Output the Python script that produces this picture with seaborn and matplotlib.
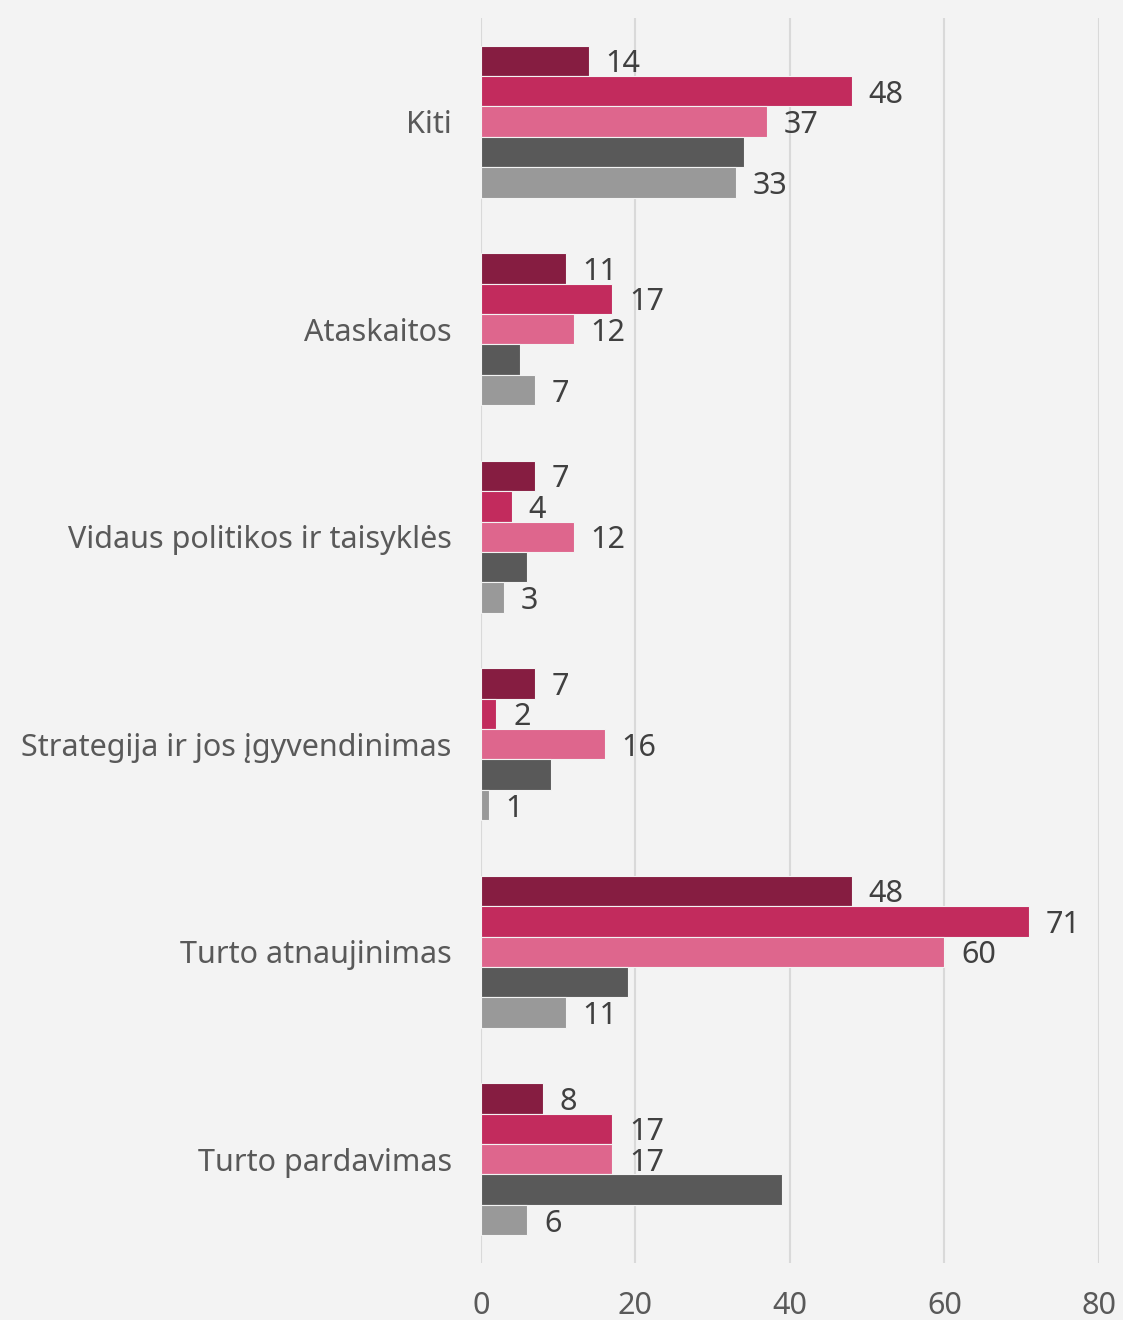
import pandas as pd
import matplotlib
matplotlib.use("Agg")
import matplotlib.pyplot as plt
import seaborn as sns

# ---------------------------------------------------------------------------
# Data
# ---------------------------------------------------------------------------
CATEGORIES = [
    "Kiti",
    "Ataskaitos",
    "Vidaus politikos ir taisyklės",
    "Strategija ir jos įgyvendinimas",
    "Turto atnaujinimas",
    "Turto pardavimas",
]
SERIES = ["S1", "S2", "S3", "S4", "S5"]
S1 = [14, 11, 7, 7, 48, 8]
S2 = [48, 17, 4, 2, 71, 17]
S3 = [37, 12, 12, 16, 60, 17]
S4 = [34, 5, 6, 9, 19, 39]
S5 = [33, 7, 3, 1, 11, 6]
X_TICKS = [0, 20, 40, 60, 80]

COLORS = ["#861D41", "#C22B5D", "#DE668D", "#595959", "#999999"]
BG = "#F3F3F3"
TEXT_COL = "#595959"
LABEL_COL = "#404040"
FS = 22

rows = []
for name, vals in zip(SERIES, [S1, S2, S3, S4, S5]):
    for cat, v in zip(CATEGORIES, vals):
        rows.append({"category": cat, "series": name, "value": v})
df = pd.DataFrame(rows)

# ---------------------------------------------------------------------------
# Plot
# ---------------------------------------------------------------------------
sns.set_style("white")
plt.rcParams["font.family"] = ["Noto Sans", "DejaVu Sans"]

fig = plt.figure(figsize=(11.23, 13.2), dpi=100)
fig.patch.set_facecolor(BG)
ax = fig.add_axes([0.4283, 0.0432, 0.5503, 0.9432])
ax.set_facecolor(BG)

sns.barplot(
    data=df, y="category", x="value", hue="series", orient="h",
    order=CATEGORIES, hue_order=SERIES, palette=COLORS,
    width=0.733, ax=ax, legend=False, edgecolor=BG, linewidth=0.8,
    saturation=1,
)

for i, cont in enumerate(ax.containers):
    if i == 3:
        continue  # dark grey series carries no labels
    labels = ax.bar_label(cont, padding=12, color=LABEL_COL, fontsize=FS)
    for t in labels:
        t.set_verticalalignment("center_baseline")

ax.set_xlim(0, 80)
ax.set_ylim(5.5, -0.5)
ax.set_xticks(X_TICKS)
ax.set_xlabel("")
ax.set_ylabel("")
ax.grid(axis="x", color="#D9D9D9", linewidth=1.5)
ax.set_axisbelow(True)
for sp in ax.spines.values():
    sp.set_visible(False)
ax.tick_params(axis="x", length=0, pad=20, labelsize=FS, colors=TEXT_COL)
ax.tick_params(axis="y", length=0, pad=21, labelsize=FS, colors=TEXT_COL)

fig.savefig("out.png", dpi=100, facecolor=BG)
plt.close(fig)
